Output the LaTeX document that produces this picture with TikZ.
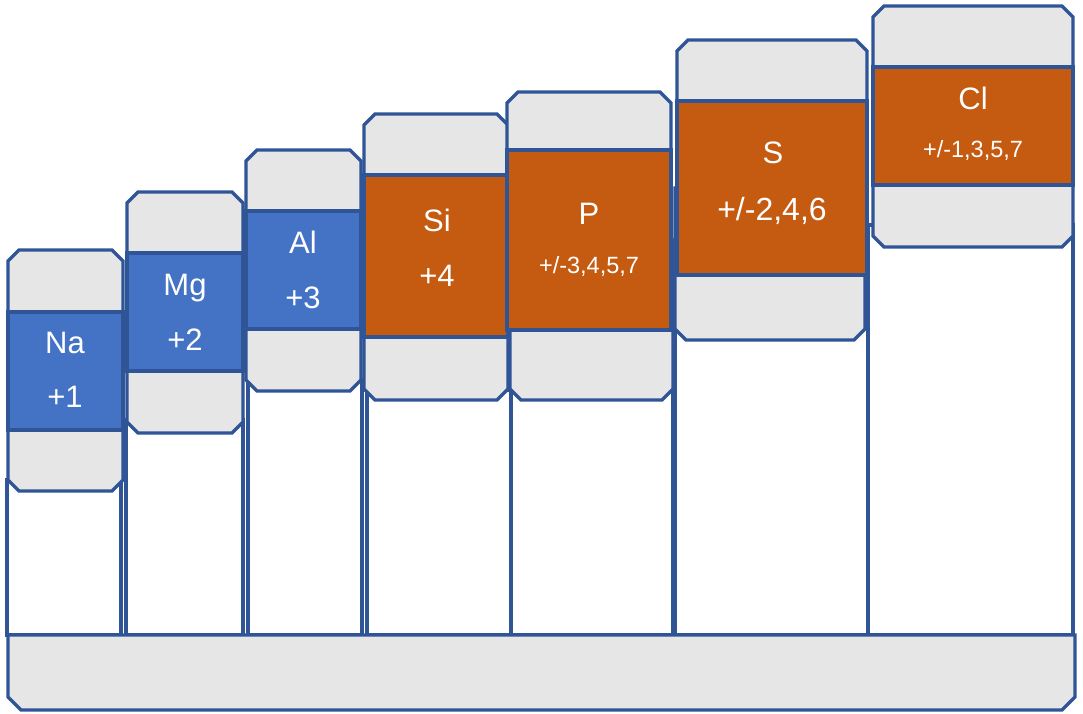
\documentclass[tikz,border=0pt]{standalone}
\usepackage{fontspec}
\setmainfont{Liberation Sans}
\definecolor{edge}{HTML}{2F5597}
\definecolor{capgray}{HTML}{E6E6E6}
\definecolor{metal}{HTML}{4472C4}
\definecolor{nonmetal}{HTML}{C55A11}
\begin{document}
\begin{tikzpicture}[x=1pt,y=-1pt,line join=miter,
  outline/.style={draw=edge,line width=3.3pt},
  column/.style={outline,fill=white},
  capbox/.style={outline,fill=capgray},
  band/.style={outline,fill=#1},
  lbl/.style={text=white,anchor=base,inner sep=0pt,font=\fontsize{31}{36}\selectfont},
  small/.style={lbl,font=\fontsize{23.5}{28}\selectfont}]
\useasboundingbox (0,0) rectangle (1083,713);

% white columns standing on the base
\foreach \xl/\xr/\ct in {7/121/480,126/243/420,248/362/380,367/511/390,511/673/390,675/868/263,868/1073/225}
  \draw[column] (\xl,\ct) rectangle (\xr,635);

% chamfered gray holders with the coloured element band
\def\c{11}
\foreach \xa/\xb/\xc/\xd/\t/\b/\bt/\bb/\col in {
  8/123/8/123/250/491/312/430/metal,
  127/243/127/243/192/433/253/371/metal,
  246/361/246/361/150/391/211/329/metal,
  364/508/364/508/114/400/175/337/nonmetal,
  507/671/510/673/92/400/150/330/nonmetal,
  677/867/675/865/40/340/101/275/nonmetal,
  873/1073/873/1073/6/247/67/185/nonmetal}{
  \pgfmathsetmacro\mid{(\bt+\bb)/2}
  \draw[capbox] (\xa,\t+\c) -- (\xa+\c,\t) -- (\xb-\c,\t) -- (\xb,\t+\c) -- (\xb,\mid)
    -- (\xd,\mid) -- (\xd,\b-\c) -- (\xd-\c,\b) -- (\xc+\c,\b) -- (\xc,\b-\c) -- (\xc,\mid)
    -- (\xa,\mid) -- cycle;
  \draw[band=\col] (\xa,\bt) rectangle (\xb,\bb);
  \draw[draw=edge,line width=4pt] (\xa,\bb) -- (\xb,\bb);
}

% base
\draw[capbox] (8,635) -- (1075,635) -- (1075,697) -- (1062,710) -- (21,710) -- (8,697) -- cycle;

% element symbols and oxidation states
\node[lbl] (na) at (65,353) {Na};
\node[lbl] (naox) at (65,407) {+1};
\node[lbl] (mg) at (185,295) {Mg};
\node[lbl] (mgox) at (185,350) {+2};
\node[lbl] (al) at (303,253) {Al};
\node[lbl] (alox) at (303,308) {+3};
\node[lbl] (si) at (437,231) {Si};
\node[lbl] (siox) at (437,286) {+4};
\node[lbl] (p) at (589,224) {P};
\node[small] (pox) at (589,273) {+/-3,4,5,7};
\node[lbl] (s) at (773,163) {S};
\node[lbl,font=\fontsize{32}{38}\selectfont] (sox) at (772,220) {+/-2,4,6};
\node[lbl] (cl) at (973,109) {Cl};
\node[small] (clox) at (973,157) {+/-1,3,5,7};
\end{tikzpicture}
\end{document}
